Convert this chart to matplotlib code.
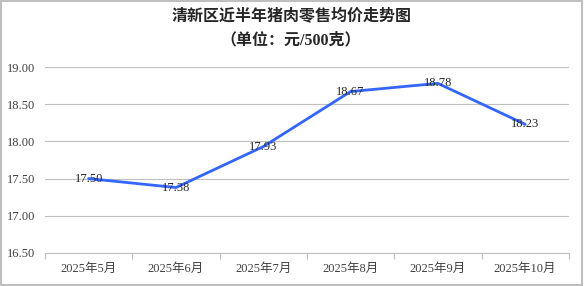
import matplotlib.pyplot as plt
from matplotlib.patches import Rectangle

plt.rcParams['font.family'] = ['Liberation Serif', 'Noto Sans CJK SC', 'DejaVu Sans']

months = ["2025年5月", "2025年6月", "2025年7月", "2025年8月", "2025年9月", "2025年10月"]
prices = [17.50, 17.38, 17.93, 18.67, 18.78, 18.23]
y_ticks = [16.50, 17.00, 17.50, 18.00, 18.50, 19.00]

fig = plt.figure(figsize=(5.84, 2.86), dpi=100)
ax = fig.add_axes([0.077, 0.1154, 0.897, 0.6503])

x = [i + 0.5 for i in range(len(months))]
ax.plot(x, prices, color="#3366FF", linewidth=2.0, solid_capstyle="round")

for xi, p in zip(x, prices):
    ax.text(xi, p, f"{p:.2f}", ha="center", va="center", fontsize=9, color="#262626")

ax.set_xlim(0, len(months))
ax.set_ylim(16.5, 19.0)
ax.set_yticks(y_ticks)
ax.set_yticklabels([f"{v:.2f}" for v in y_ticks])
ax.set_xticks(range(len(months) + 1))
ax.set_xticklabels([])
ax.set_xticks(x, minor=True)
ax.set_xticklabels(months, minor=True)
ax.tick_params(axis="x", which="major", length=4, color="#BFBFBF", width=0.8, direction="out")
ax.tick_params(axis="x", which="minor", length=0, pad=7, labelsize=9, labelcolor="#404040")
ax.tick_params(axis="y", length=0, pad=7, labelsize=9, labelcolor="#404040")

ax.grid(axis="y", color="#BFBFBF", linewidth=0.8)
ax.set_axisbelow(True)
for s in ["top", "right", "left"]:
    ax.spines[s].set_visible(False)
ax.spines["bottom"].set_color("#BFBFBF")
ax.spines["bottom"].set_linewidth(0.8)

fig.text(0.5, 0.94, "清新区近半年猪肉零售均价走势图", ha="center", va="center",
         fontsize=11.5, fontweight="bold", color="#262626")
fig.text(0.497, 0.86, "（单位：元/500克）", ha="center", va="center",
         fontsize=11.5, fontweight="bold", color="#262626")

fig.patches.append(Rectangle((0.001, 0.002), 0.995, 0.996, transform=fig.transFigure,
                             fill=False, edgecolor="#BFBFBF", linewidth=1.5))

fig.savefig("out.png", dpi=100)
